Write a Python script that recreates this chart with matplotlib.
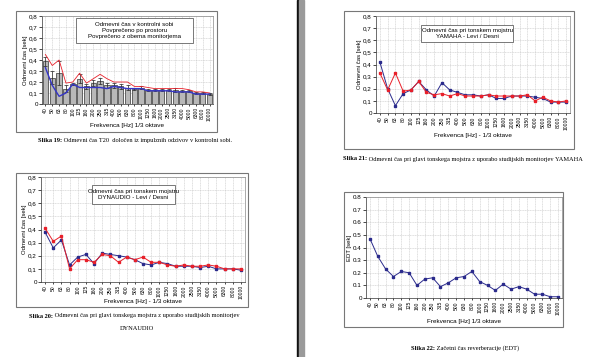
import matplotlib.pyplot as plt
from matplotlib.patches import Rectangle
from matplotlib.ticker import FuncFormatter

# ---------- data ----------
freqs = ["40", "50", "63", "80", "100", "125", "160", "200", "250", "315", "400",
         "500", "630", "800", "1000", "1250", "1600", "2000", "2500", "3150",
         "4000", "5000", "6300", "8000", "10000"]

# Slika 19 - kontrolna soba
t20_mean = [0.39, 0.24, 0.28, 0.14, 0.18, 0.23, 0.16, 0.19, 0.21, 0.17, 0.17, 0.16, 0.15,
            0.14, 0.15, 0.13, 0.13, 0.13, 0.13, 0.13, 0.12, 0.12, 0.10, 0.10, 0.09]
t20_err = [0.04, 0.06, 0.11, 0.03, 0.01, 0.04, 0.02, 0.03, 0.03, 0.02, 0.02, 0.02, 0.02,
           0.01, 0.01, 0.01, 0.01, 0.01, 0.01, 0.02, 0.01, 0.01, 0.01, 0.01, 0.01]
t20_max = [0.45, 0.35, 0.40, 0.19, 0.20, 0.28, 0.19, 0.23, 0.27, 0.23, 0.20, 0.20, 0.20,
           0.16, 0.16, 0.15, 0.14, 0.14, 0.14, 0.14, 0.14, 0.13, 0.11, 0.11, 0.10]
t20_min = [0.33, 0.17, 0.07, 0.10, 0.18, 0.15, 0.15, 0.15, 0.15, 0.14, 0.16, 0.15, 0.14,
           0.14, 0.14, 0.12, 0.12, 0.12, 0.12, 0.11, 0.11, 0.11, 0.09, 0.09, 0.09]

# Slika 20 - DYNAUDIO
dyn_levi = [0.38, 0.26, 0.32, 0.13, 0.19, 0.21, 0.14, 0.22, 0.21, 0.20, 0.19, 0.17, 0.14,
            0.13, 0.15, 0.14, 0.12, 0.12, 0.12, 0.11, 0.12, 0.10, 0.10, 0.10, 0.09]
dyn_desni = [0.41, 0.31, 0.35, 0.10, 0.17, 0.17, 0.15, 0.21, 0.20, 0.15, 0.19, 0.17, 0.19,
             0.15, 0.15, 0.13, 0.12, 0.13, 0.12, 0.12, 0.13, 0.12, 0.10, 0.10, 0.10]

# Slika 21 - YAMAHA
yam_levi = [0.42, 0.20, 0.06, 0.16, 0.19, 0.26, 0.19, 0.14, 0.25, 0.19, 0.17, 0.15, 0.15,
            0.14, 0.15, 0.12, 0.12, 0.14, 0.14, 0.14, 0.13, 0.12, 0.09, 0.09, 0.09]
yam_desni = [0.33, 0.19, 0.33, 0.18, 0.19, 0.26, 0.17, 0.15, 0.16, 0.14, 0.16, 0.14, 0.14,
             0.14, 0.15, 0.14, 0.14, 0.14, 0.14, 0.15, 0.10, 0.13, 0.10, 0.09, 0.10]

# Slika 22 - EDT
edt = [0.47, 0.33, 0.23, 0.17, 0.21, 0.20, 0.10, 0.15, 0.16, 0.09, 0.12, 0.16, 0.17,
       0.21, 0.13, 0.10, 0.06, 0.11, 0.07, 0.09, 0.07, 0.03, 0.03, 0.01, 0.01]

W, H = 600, 357
BLUE = "#2b2b8c"
RED = "#e8202a"

plt.rcParams['font.family'] = ['Liberation Sans', 'DejaVu Sans']

fig = plt.figure(figsize=(6, 3.57), dpi=100)
fig.patch.set_facecolor("white")


def box(x0, y0, x1, y1):
    return [x0 / W, 1 - y1 / H, (x1 - x0) / W, (y1 - y0) / H]


def frame(x0, y0, x1, y1):
    fig.patches.append(Rectangle((x0 / W, 1 - y1 / H), (x1 - x0) / W, (y1 - y0) / H,
                                 transform=fig.transFigure, fill=False,
                                 edgecolor="#777777", linewidth=0.8))


def setup(ax, ylabel, xlabel, label_y, comma=True):
    ax.set_xlim(-0.5, len(freqs) - 0.5)
    ax.set_ylim(0, 0.8)
    ax.set_yticks([i / 10 for i in range(9)])
    if comma:
        ax.yaxis.set_major_formatter(FuncFormatter(
            lambda v, p: "0" if v == 0 else ("%.1f" % v).replace(".", ",")))
    else:
        ax.yaxis.set_major_formatter(FuncFormatter(
            lambda v, p: "0" if v == 0 else "%.1f" % v))
    ax.set_xticks(range(len(freqs)))
    ax.set_xticklabels(freqs, rotation=90, fontsize=3.6)
    ax.tick_params(axis="y", labelsize=4.5, length=2, width=0.5, pad=1)
    ax.tick_params(axis="x", length=1.5, width=0.5, pad=0.8)
    ax.grid(True, color="#c8c8c8", linestyle=(0, (2, 1)), linewidth=0.4)
    ax.set_axisbelow(True)
    for s in ax.spines.values():
        s.set_linewidth(0.5)
        s.set_color("#888888")
    ax.spines["left"].set_color("#333333")
    ax.spines["bottom"].set_color("#333333")
    ax.set_ylabel(ylabel, fontsize=4.3, labelpad=1)
    ax.set_xlabel(xlabel, fontsize=4.6, va="center")
    # x label sits at a fixed pixel row, as in the scan
    bb = ax.get_position()
    bottom_px = (1 - bb.y0) * H
    ax.xaxis.set_label_coords(0.5, -(label_y - bottom_px) / (bb.height * H))


def legend_box(lines, x0, y0, x1, y1):
    fig.patches.append(Rectangle((x0 / W, 1 - y1 / H), (x1 - x0) / W, (y1 - y0) / H,
                                 transform=fig.transFigure, facecolor="white",
                                 edgecolor="#444444", linewidth=0.5, zorder=5))
    fig.text((x0 + x1) / 2 / W, 1 - (y0 + y1) / 2 / H, "\n".join(lines),
             ha="center", va="center", fontsize=4.4, linespacing=1.35, zorder=6)


def caption(ax, x0, y, label, rest):
    # bold "Slika N:" followed by normal serif text
    t = fig.text(x0 / W, 1 - y / H, label, fontsize=4.6, family="Liberation Serif",
                 fontweight="bold", ha="left", va="center")
    ax.annotate(" " + rest, xy=(1, 0.5), xycoords=t, fontsize=4.6,
                family="Liberation Serif", ha="left", va="center",
                annotation_clip=False)


x = range(len(freqs))

# ---------- Slika 19 ----------
frame(16, 11, 217, 132)
ax1 = fig.add_axes(box(42, 16, 213, 104))
ax1.bar(x, t20_mean, width=0.8, color="#b8b8b8", edgecolor="#333333", linewidth=0.5,
        yerr=t20_err, error_kw=dict(ecolor="#222222", elinewidth=0.5, capsize=1.2,
                                    capthick=0.5))
ax1.plot(x, t20_max, color=RED, linewidth=0.6)
ax1.plot(x, t20_min, color="#3535c8", linewidth=1.0)
setup(ax1, "Odmevni čas [sek]", "Frekvenca [Hz] 1/3 oktave", 126)
legend_box(["Odmevni čas v kontrolni sobi", "Povprečeno po prostoru",
            "Povprečeno z obema monitorjema"], 76, 18, 193, 43)
caption(ax1, 38, 141, "Slika 19:",
        "Odmevni čas T20  določen iz impulznih odzivov v kontrolni sobi.")

# ---------- Slika 20 ----------
frame(16, 173, 248, 307)
ax3 = fig.add_axes(box(41, 177, 245, 282))
ax3.plot(x, dyn_levi, color=BLUE, linewidth=0.7, marker="s", markersize=1.6)
ax3.plot(x, dyn_desni, color=RED, linewidth=0.7, marker="s", markersize=1.6)
setup(ax3, "Odmevni čas [sek]", "Frekvenca [Hz] - 1/3 oktave", 301)
legend_box(["Odmevni čas pri tonskem mojstru", "DYNAUDIO - Levi / Desni"],
           92, 185, 175, 204)
caption(ax3, 29, 316, "Slika 20:",
        "Odmevni čas pri glavi tonskega mojstra z uporabo studijskih monitorjev")
fig.text(137 / W, 1 - 328 / H, "DYNAUDIO", fontsize=4.6, family="Liberation Serif",
         ha="center", va="center")

# ---------- Slika 21 ----------
frame(344, 11, 574, 149)
ax2 = fig.add_axes(box(376, 16, 570, 113))
ax2.plot(x, yam_levi, color=BLUE, linewidth=0.7, marker="s", markersize=1.6)
ax2.plot(x, yam_desni, color=RED, linewidth=0.7, marker="s", markersize=1.6)
setup(ax2, "Odmevni čas [sek]", "Frekvenca [Hz] - 1/3 oktave", 135)
legend_box(["Odmevni čas pri tonskem mojstru", "YAMAHA - Levi / Desni"],
           421, 25, 513, 42)
caption(ax2, 343, 159, "Slika 21:",
        "Odmevni čas pri glavi tonskega mojstra z uporabo studijskih monitorjev YAMAHA")

# ---------- Slika 22 ----------
frame(344, 192, 563, 327)
ax4 = fig.add_axes(box(366, 197, 562, 298))
ax4.plot(x, edt, color=BLUE, linewidth=0.7, marker="s", markersize=1.6)
setup(ax4, "EDT [sek]", "Frekvenca [Hz] 1/3 oktave", 322, comma=False)
caption(ax4, 411, 348, "Slika 22:", "Začetni čas reverberacije (EDT)")

# ---------- page divider ----------
fig.patches.append(Rectangle((297 / W, 0), 1.5 / W, 1, transform=fig.transFigure,
                             color="#111111"))
fig.patches.append(Rectangle((298.5 / W, 0), 5 / W, 1, transform=fig.transFigure,
                             color="#9a9a9a"))

fig.savefig("out.png", dpi=100)
